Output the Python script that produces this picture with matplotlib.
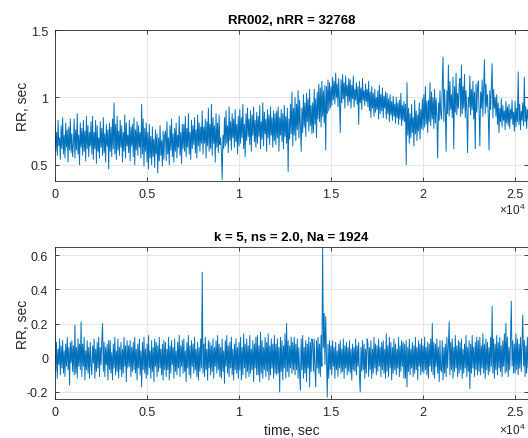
import numpy as np
import matplotlib
matplotlib.use('Agg')
import matplotlib.pyplot as plt

plt.rcParams['font.family'] = ['Liberation Sans', 'DejaVu Sans']
plt.rcParams['mathtext.fontset'] = 'custom'
plt.rcParams['mathtext.rm'] = 'Liberation Sans'
plt.rcParams['mathtext.it'] = 'Liberation Sans:italic'
plt.rcParams['axes.unicode_minus'] = False

# ---- data (one row = 0.1e4 sec) ----
rr = [
    0.80, 0.60, 0.74, 0.57, 0.83, 0.64, 0.70, 0.54, 0.79, 0.62, 0.85, 0.58, 0.72, 0.55, 0.81, 0.63, 0.76, 0.52, 0.78, 0.61, 0.84, 0.59, 0.73, 0.56,
    0.66, 0.84, 0.55, 0.76, 0.61, 0.88, 0.58, 0.72, 0.50, 0.81, 0.63, 0.77, 0.57, 0.83, 0.60, 0.75, 0.53, 0.86, 0.62, 0.79, 0.56, 0.74, 0.64, 0.82,
    0.58, 0.86, 0.54, 0.74, 0.62, 0.83, 0.51, 0.79, 0.60, 0.70, 0.55, 0.82, 0.63, 0.77, 0.57, 0.85, 0.59, 0.73, 0.52, 0.80, 0.64, 0.76, 0.47, 0.81,
    0.60, 0.78, 0.56, 0.84, 0.62, 0.96, 0.58, 0.80, 0.54, 0.86, 0.61, 0.75, 0.57, 0.83, 0.63, 0.79, 0.52, 0.74, 0.60, 0.87, 0.55, 0.81, 0.64, 0.72,
    0.59, 0.83, 0.53, 0.78, 0.64, 0.80, 0.56, 0.85, 0.50, 0.76, 0.61, 0.82, 0.57, 0.79, 0.63, 0.74, 0.55, 0.95, 0.58, 0.84, 0.49, 0.77, 0.60, 0.81,
    0.52, 0.74, 0.47, 0.80, 0.55, 0.71, 0.50, 0.78, 0.56, 0.69, 0.48, 0.76, 0.58, 0.73, 0.44, 0.70, 0.53, 0.79, 0.57, 0.68, 0.49, 0.75, 0.54, 0.72,
    0.75, 0.53, 0.82, 0.58, 0.70, 0.50, 0.79, 0.61, 0.84, 0.56, 0.73, 0.52, 0.77, 0.60, 0.81, 0.55, 0.72, 0.63, 0.86, 0.57, 0.74, 0.51, 0.80, 0.62,
    0.80, 0.60, 0.86, 0.56, 0.77, 0.63, 0.88, 0.58, 0.74, 0.54, 0.83, 0.62, 0.79, 0.65, 0.85, 0.59, 0.76, 0.55, 0.87, 0.64, 0.81, 0.60, 0.78, 0.66,
    0.90, 0.58, 0.78, 0.66, 0.84, 0.55, 0.82, 0.64, 0.92, 0.60, 0.80, 0.62, 0.95, 0.57, 0.85, 0.66, 0.79, 0.52, 0.88, 0.63, 0.81, 0.59, 0.87, 0.65,
    0.70, 0.60, 0.39, 0.72, 0.62, 0.85, 0.64, 0.90, 0.66, 0.79, 0.59, 0.93, 0.68, 0.82, 0.61, 0.88, 0.70, 0.84, 0.63, 0.91, 0.67, 0.80, 0.58, 0.86,
    0.64, 0.91, 0.66, 0.85, 0.70, 0.95, 0.62, 0.80, 0.56, 0.88, 0.68, 0.92, 0.71, 0.84, 0.65, 0.90, 0.60, 0.87, 0.72, 0.93, 0.67, 0.83, 0.63, 0.89,
    0.66, 0.86, 0.71, 0.94, 0.62, 0.82, 0.69, 0.96, 0.64, 0.89, 0.73, 0.84, 0.60, 0.91, 0.70, 0.87, 0.65, 0.93, 0.72, 0.85, 0.63, 0.90, 0.68, 0.88,
    0.65, 0.90, 0.70, 0.93, 0.60, 0.85, 0.72, 0.91, 0.67, 0.88, 0.62, 0.94, 0.71, 0.86, 0.66, 0.92, 0.45, 0.84, 0.69, 0.95, 0.73, 1.04, 0.64, 0.92,
    0.72, 1.00, 0.68, 0.95, 0.76, 1.05, 0.70, 0.98, 0.80, 0.60, 0.92, 0.74, 1.02, 0.78, 0.96, 0.71, 1.03, 0.82, 0.99, 0.75, 1.06, 0.79, 0.94, 0.73,
    0.96, 0.74, 1.06, 0.80, 0.99, 0.70, 1.04, 0.84, 1.10, 0.82, 1.07, 0.78, 1.12, 0.86, 1.05, 0.81, 1.09, 0.61, 1.08, 0.88, 1.13, 0.90, 1.11, 0.92,
    1.08, 0.94, 1.15, 0.98, 1.12, 0.95, 1.18, 1.00, 1.10, 0.93, 1.14, 0.97, 0.74, 1.13, 0.96, 1.17, 0.99, 1.11, 0.92, 1.16, 1.01, 1.09, 0.94, 1.14,
    0.97, 1.13, 0.92, 1.09, 0.99, 1.16, 0.93, 1.06, 0.98, 1.11, 0.95, 1.08, 0.80, 1.12, 0.96, 1.07, 0.91, 1.14, 0.98, 1.05, 0.94, 1.10, 0.97, 1.06,
    0.93, 1.12, 0.90, 1.04, 0.85, 1.08, 0.92, 1.03, 0.86, 1.06, 0.89, 1.00, 0.91, 1.05, 0.84, 1.09, 0.88, 1.02, 0.90, 1.07, 0.85, 1.01, 0.92, 1.04,
    0.84, 1.03, 0.88, 0.99, 0.82, 1.02, 0.87, 0.97, 0.83, 1.01, 0.86, 0.95, 0.81, 1.00, 0.85, 0.96, 0.80, 0.98, 0.84, 1.03, 0.79, 0.94, 0.83, 0.97,
    0.82, 0.95, 0.50, 1.11, 0.72, 0.92, 0.66, 0.88, 0.70, 0.95, 0.74, 0.85, 0.64, 0.98, 0.73, 0.90, 0.68, 0.87, 0.75, 0.96, 0.69, 0.91, 0.77, 0.99,
    0.76, 1.02, 0.78, 1.08, 0.80, 0.97, 0.74, 0.98, 0.82, 1.11, 0.79, 1.04, 0.84, 1.00, 0.77, 1.06, 0.81, 0.99, 0.85, 0.55, 0.96, 0.83, 1.05, 0.88,
    0.84, 1.10, 1.30, 0.82, 1.06, 0.90, 0.60, 1.05, 0.88, 1.24, 0.86, 1.12, 0.91, 1.02, 0.85, 1.15, 0.62, 1.08, 0.89, 1.18, 0.87, 1.03, 0.92, 1.09,
    1.14, 0.86, 1.24, 0.88, 1.08, 0.92, 1.17, 0.85, 1.05, 0.90, 0.59, 1.00, 0.93, 1.16, 0.87, 1.06, 0.91, 1.12, 0.84, 1.04, 0.62, 1.10, 0.89, 1.07,
    1.12, 0.90, 0.64, 1.04, 0.92, 1.13, 0.86, 1.07, 1.28, 0.88, 1.10, 0.93, 1.02, 0.87, 0.61, 1.05, 0.91, 1.09, 1.25, 0.85, 1.06, 0.92, 1.00, 0.86,
    1.02, 0.80, 0.96, 0.74, 0.92, 0.82, 0.99, 0.78, 0.94, 0.83, 0.90, 0.76, 0.97, 0.81, 0.93, 0.79, 0.95, 0.77, 0.91, 0.84, 0.98, 0.80, 0.89, 0.75,
    0.97, 0.78, 0.92, 0.82, 1.19, 0.80, 0.95, 0.76, 0.90, 0.83, 0.96, 0.79, 1.15, 0.82, 0.93, 0.77, 0.91, 0.84, 1.06, 0.78, 0.94, 0.81, 0.90, 0.85,
]

drr = [
    0.18, -0.08, 0.09, -0.12, 0.05, -0.04, 0.11, -0.10, 0.07, -0.06, 0.10, -0.09, 0.04, -0.11, 0.08, -0.05, 0.12, -0.07, 0.06, -0.16, 0.09, -0.03, 0.10, -0.08,
    0.07, -0.10, 0.19, -0.09, 0.06, -0.12, 0.11, -0.05, 0.08, -0.07, 0.21, -0.11, 0.08, -0.05, 0.12, -0.13, 0.04, -0.07, 0.10, -0.09, 0.06, -0.12, 0.09, -0.04,
    -0.10, 0.07, -0.03, 0.11, -0.12, 0.05, -0.08, 0.09, -0.06, 0.12, -0.11, 0.06, -0.04, 0.10, 0.20, -0.08, 0.09, -0.11, 0.06, -0.04, 0.08, -0.13, 0.10, -0.07,
    0.10, -0.09, 0.03, -0.13, 0.08, -0.06, 0.12, -0.10, 0.04, -0.08, 0.11, -0.12, 0.06, -0.07, 0.09, -0.11, 0.05, -0.09, 0.12, -0.05, 0.07, -0.14, 0.10, -0.06,
    0.07, -0.05, 0.10, -0.11, 0.06, -0.08, 0.09, -0.07, 0.12, -0.09, 0.05, -0.13, 0.08, -0.06, 0.11, -0.10, 0.04, -0.17, 0.09, -0.07, 0.12, -0.09, 0.05, -0.12,
    0.08, -0.10, 0.13, -0.06, 0.04, -0.12, 0.10, -0.08, 0.06, -0.14, 0.11, -0.05, 0.09, -0.11, 0.07, -0.08, 0.12, -0.06, 0.05, -0.10, 0.08, -0.13, 0.10, -0.07,
    0.09, -0.11, 0.05, -0.07, 0.12, -0.13, 0.07, -0.09, 0.10, -0.04, 0.06, -0.12, 0.11, -0.08, 0.04, -0.10, 0.09, -0.06, 0.13, -0.11, 0.07, -0.05, 0.10, -0.09,
    0.11, -0.08, 0.04, -0.14, 0.09, -0.06, 0.13, -0.10, 0.07, -0.12, 0.10, -0.05, 0.08, -0.09, 0.12, -0.07, 0.05, -0.11, 0.09, -0.13, 0.06, -0.08, 0.11, -0.06,
    0.50, -0.09, 0.08, -0.11, 0.12, -0.07, 0.05, -0.13, 0.10, -0.06, 0.09, -0.10, 0.07, -0.08, 0.11, -0.12, 0.06, -0.05, 0.10, -0.09, 0.13, -0.07, 0.08, -0.11,
    0.06, -0.12, 0.11, -0.08, 0.04, -0.15, 0.10, -0.05, 0.13, -0.09, 0.07, -0.11, 0.09, -0.06, 0.12, -0.10, 0.05, -0.13, 0.08, -0.07, 0.11, -0.09, 0.06, -0.12,
    0.09, -0.07, 0.12, -0.13, 0.06, -0.10, 0.14, -0.06, 0.08, -0.12, 0.11, -0.08, 0.07, -0.11, 0.13, -0.09, 0.05, -0.07, 0.10, -0.14, 0.08, -0.06, 0.12, -0.10,
    0.13, -0.10, 0.07, -0.14, 0.15, -0.09, 0.10, -0.12, 0.06, -0.07, 0.12, -0.11, 0.09, -0.08, 0.14, -0.13, 0.07, -0.10, 0.11, -0.06, 0.08, -0.12, 0.13, -0.09,
    0.08, -0.10, 0.11, -0.09, 0.06, -0.20, 0.12, -0.08, 0.10, -0.13, 0.07, -0.06, 0.14, -0.12, 0.20, -0.08, 0.10, -0.11, 0.07, -0.06, 0.12, -0.09, 0.09, -0.07,
    0.12, -0.10, 0.08, -0.07, 0.11, -0.12, 0.06, -0.09, -0.19, 0.11, -0.07, 0.13, -0.12, 0.06, -0.09, 0.10, -0.14, 0.08, -0.06, 0.12, -0.17, 0.09, -0.08, 0.11,
    0.09, -0.08, 0.11, -0.07, -0.17, 0.10, -0.06, 0.12, -0.09, 0.08, -0.11, 0.13, -0.05, 0.645, 0.06, 0.26, -0.04, 0.24, 0.02, -0.23, 0.08, -0.12, 0.10, -0.07,
    0.07, -0.10, 0.10, -0.05, 0.06, -0.12, 0.09, -0.07, 0.04, -0.11, 0.08, -0.06, 0.10, -0.09, 0.05, -0.08, 0.11, -0.12, 0.07, -0.06, 0.09, -0.10, 0.06, -0.08,
    0.10, -0.09, 0.05, -0.13, 0.08, -0.07, 0.06, -0.08, 0.11, -0.10, 0.07, -0.05, 0.09, -0.11, -0.20, 0.06, -0.08, 0.10, -0.07, 0.08, -0.12, 0.05, -0.09, 0.11,
    0.09, -0.11, 0.06, -0.07, 0.10, -0.12, 0.05, -0.09, 0.12, -0.06, 0.08, -0.10, 0.07, -0.08, 0.11, -0.05, 0.06, -0.11, 0.09, -0.07, 0.10, -0.09, 0.05, -0.12,
    0.14, -0.08, 0.07, -0.11, 0.12, -0.06, 0.09, -0.13, 0.06, -0.09, 0.11, -0.07, 0.08, -0.10, 0.05, -0.06, 0.12, -0.11, 0.07, -0.08, 0.10, -0.05, 0.09, -0.12,
    0.08, -0.12, 0.10, -0.17, 0.06, -0.08, 0.11, -0.10, 0.05, -0.06, 0.09, -0.11, 0.07, -0.09, 0.12, -0.07, 0.06, -0.13, 0.10, -0.05, 0.08, -0.10, 0.11, -0.08,
    0.07, -0.09, 0.12, -0.07, 0.06, -0.10, 0.09, -0.12, 0.08, -0.05, 0.11, -0.08, 0.20, -0.10, 0.09, -0.12, 0.08, -0.05, 0.11, -0.09, 0.06, -0.14, 0.10, -0.07,
    -0.08, 0.10, -0.13, 0.06, -0.09, 0.08, -0.11, 0.12, -0.06, 0.07, 0.21, -0.10, 0.09, -0.07, 0.11, -0.12, 0.06, -0.08, 0.13, -0.06, 0.07, -0.11, 0.10, -0.09,
    0.09, -0.07, 0.11, -0.12, 0.05, -0.09, 0.08, -0.06, 0.13, -0.11, 0.06, -0.08, 0.10, -0.18, 0.08, -0.09, 0.13, -0.06, 0.06, -0.11, 0.09, -0.07, 0.12, -0.10,
    0.10, -0.08, 0.12, -0.10, 0.07, -0.06, 0.14, -0.09, 0.08, -0.12, 0.11, -0.07, 0.09, -0.10, 0.06, -0.08, 0.12, -0.05, 0.30, -0.09, 0.11, -0.12, 0.08, -0.07,
    0.13, -0.10, 0.09, -0.06, 0.12, -0.08, 0.07, -0.11, 0.10, -0.05, 0.14, -0.09, 0.20, -0.08, 0.12, -0.11, 0.06, -0.07, 0.10, 0.33, -0.05, 0.10, -0.09, 0.08,
    -0.09, 0.14, -0.07, 0.11, -0.10, 0.08, -0.06, 0.12, -0.08, 0.09, 0.25, -0.05, 0.10, -0.11, 0.07, -0.09, 0.12, -0.06, 0.08, -0.10, 0.11, -0.07, 0.09, -0.05,
]

t_step = 1000.0 / 24   # sec between plotted points
t_end = 25700.0
xticks = [0, 5000, 10000, 15000, 20000, 25000]
xticklabels = ['0', '0.5', '1', '1.5', '2', '2.5']
top_yticks = [0.5, 1, 1.5]
top_yticklabels = ['0.5', '1', '1.5']
bot_yticks = [-0.2, 0, 0.2, 0.4, 0.6]
bot_yticklabels = ['-0.2', '0', '0.2', '0.4', '0.6']

title_top = 'RR002, nRR = 32768'
title_bot = 'k = 5, ns = 2.0, Na = 1924'

t1 = np.arange(len(rr)) * t_step
t2 = np.arange(len(drr)) * t_step

line_col = '#0072BD'
axis_col = '#262626'

fig = plt.figure(figsize=(5.28, 4.39), dpi=100)
W, H = 528.0, 439.0


def make_axes(top_px, bot_px):
    ax = fig.add_axes([55 / W, 1 - bot_px / H, 473 / W, (bot_px - top_px) / H])
    for s in ax.spines.values():
        s.set_color(axis_col)
        s.set_linewidth(0.6)
    ax.tick_params(direction='in', length=3, width=0.6, colors=axis_col,
                   labelsize=9, top=True, right=True, pad=5)
    ax.grid(True, color='#e0e0e0', linewidth=0.6)
    ax.set_axisbelow(True)
    ax.yaxis.set_label_coords(-0.052, 0.5)
    return ax


ax1 = make_axes(31, 182)
ax1.plot(t1, rr, color=line_col, linewidth=0.7)
ax1.set_xlim(0, t_end)
ax1.set_ylim(0.38, 1.5)
ax1.set_xticks(xticks)
ax1.set_xticklabels(xticklabels)
ax1.set_yticks(top_yticks)
ax1.set_yticklabels(top_yticklabels)
ax1.set_ylabel('RR, sec', fontsize=10, color=axis_col)
ax1.set_title(title_top, fontsize=9.5, fontweight='bold', color='black', pad=5)
ax1.text(0.994, -0.185, r'$\times10^{4}$', transform=ax1.transAxes,
         ha='right', va='center', fontsize=8.5, color=axis_col)

ax2 = make_axes(248, 400)
ax2.plot(t2, drr, color=line_col, linewidth=0.7)
ax2.set_xlim(0, t_end)
ax2.set_ylim(-0.241, 0.647)
ax2.set_xticks(xticks)
ax2.set_xticklabels(xticklabels)
ax2.set_yticks(bot_yticks)
ax2.set_yticklabels(bot_yticklabels)
ax2.set_ylabel('RR, sec', fontsize=10, color=axis_col)
ax2.set_xlabel('time, sec', fontsize=10, color=axis_col, labelpad=4)
ax2.set_title(title_bot, fontsize=9.5, fontweight='bold', color='black', pad=5)
ax2.text(0.994, -0.2, r'$\times10^{4}$', transform=ax2.transAxes,
         ha='right', va='center', fontsize=8.5, color=axis_col)

fig.savefig('out.png', dpi=100)
